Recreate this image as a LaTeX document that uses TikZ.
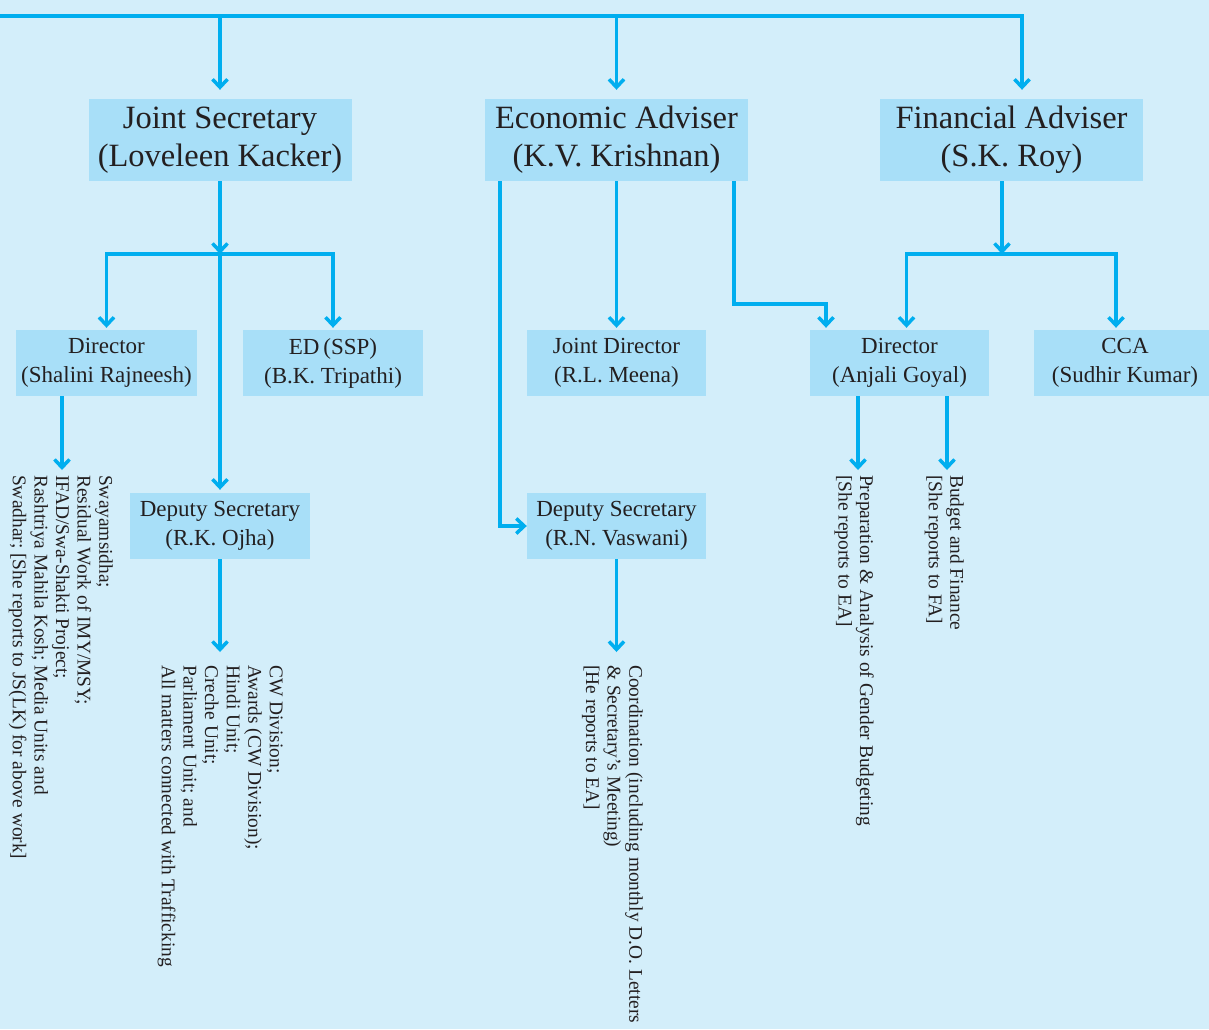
\documentclass[tikz,border=0pt]{standalone}
\usepackage{fontspec}
\setmainfont{Liberation Serif}
\usetikzlibrary{arrows.meta,calc}
\definecolor{bgc}{HTML}{D3EEFA}
\definecolor{boxc}{HTML}{A8DFF8}
\definecolor{linec}{HTML}{00AEEF}
\definecolor{txtc}{HTML}{231F20}
\begin{document}
\begin{tikzpicture}[x=1pt,y=-1pt,
  bigbox/.style={fill=boxc, inner sep=0pt, minimum width=263pt, minimum height=82pt, align=center, text=txtc, font=\fontsize{32.5}{38}\selectfont},
  smallbox/.style={fill=boxc, inner sep=0pt, minimum width=180pt, minimum height=66pt, align=center, text=txtc, font=\fontsize{23}{29}\selectfont},
  rottext/.style={rotate=-90, anchor=north west, align=left, inner sep=0pt, text=txtc, font=\fontsize{19.4}{21.6}\selectfont},
  conn/.style={draw=linec, line width=3.5pt},
  arr/.style={conn, -{Straight Barb[length=8pt,width=15pt]}, shorten >=2pt}
]
\fill[bgc] (0,0) rectangle (1209,1029);
\useasboundingbox (0,0) rectangle (1209,1029);

% top level boxes
\node[bigbox] (js) at (220,140) {Joint Secretary\\(Loveleen Kacker)};
\node[bigbox] (ea) at (616.5,140) {Economic Adviser\\(K.V. Krishnan)};
\node[bigbox] (fa) at (1011.5,140) {Financial Adviser\\(S.K. Roy)};

% second row
\node[smallbox, minimum width=181pt] (shalini) at (106.5,363) {Director\\(Shalini Rajneesh)};
\node[smallbox] (ed) at (333,363) {ED\,(SSP)\\(B.K. Tripathi)};
\node[smallbox, minimum width=179pt] (jd) at (616.5,363) {Joint Director\\(R.L. Meena)};
\node[smallbox, minimum width=179pt] (anjali) at (899.5,363) {Director\\(Anjali Goyal)};
\node[smallbox, minimum width=182pt] (cca) at (1125,363) {CCA\\(Sudhir Kumar)};

% third row
\node[smallbox] (ojha) at (220,526) {Deputy Secretary\\(R.K. Ojha)};
\node[smallbox, minimum width=179pt] (vaswani) at (616.5,526) {Deputy Secretary\\(R.N. Vaswani)};

% rotated texts
\node[rottext] (txs) at (113,475) {Swayamsidha;\\Residual Work of IMY/MSY;\\IFAD/Swa-Shakti Project;\\Rashtriya Mahila Kosh; Media Units and\\Swadhar; [She reports to JS(LK) for above work]};
\node[rottext] (txo) at (283,665) {CW Division;\\Awards (CW Division);\\Hindi Unit;\\Creche Unit;\\Parliament Unit; and\\All matters connected with Trafficking};
\node[rottext] (txv) at (643,665) {Coordination (including monthly D.O. Letters\\\& Secretary’s Meeting)\\{[He reports to EA]}};
\node[rottext] (txp) at (874,475) {Preparation \& Analysis of Gender Budgeting\\{[She reports to EA]}};
\node[rottext] (txb) at (964,475) {Budget and Finance\\{[She reports to FA]}};

% coordinates
\coordinate (tl) at (0,16);
\coordinate (tr) at (1022,16);
\coordinate (jsb) at (220,254);
\coordinate (fab) at (1002,254);
\coordinate (eab) at (826,304);
\coordinate (t1) at (62,470);
\coordinate (t2) at (220,652);
\coordinate (t3) at (616.5,652);
\coordinate (t4) at (858,470);
\coordinate (t5) at (947,470);

% top connectors
\draw[arr, shorten >=9pt] (tl) -- (tr) -- (tr |- fa.north);
\draw[arr, shorten >=9pt] (tl -| js.north) -- (js.north);
\draw[arr, shorten >=9pt] (tl -| ea.north) -- (ea.north);

% JS branch
\draw[arr, shorten >=0pt] (js.south) -- (jsb);
\draw[arr] (jsb) -| (shalini.north);
\draw[arr] (jsb) -| (ed.north);
\draw[arr, shorten >=3pt] (jsb) -- (ojha.north);

% EA branch
\draw[arr, shorten >=0pt] ([xshift=-116.5pt]ea.south) |- (vaswani.west);
\draw[arr] (ea.south) -- (jd.north);
\draw[arr] ([xshift=117.5pt]ea.south) |- (eab) -- (eab |- anjali.north);

% FA branch
\draw[arr, shorten >=0pt] (fab |- fa.south) -- (fab);
\draw[arr] (fab) -| ([xshift=7pt]anjali.north);
\draw[arr] (fab) -| ([xshift=-9pt]cca.north);

% to texts
\draw[arr, shorten >=0pt] (t1 |- shalini.south) -- (t1);
\draw[arr, shorten >=0pt] (ojha.south) -- (t2);
\draw[arr, shorten >=0pt] (vaswani.south) -- (t3);
\draw[arr, shorten >=0pt] (t4 |- anjali.south) -- (t4);
\draw[arr, shorten >=0pt] (t5 |- anjali.south) -- (t5);
\end{tikzpicture}
\end{document}
